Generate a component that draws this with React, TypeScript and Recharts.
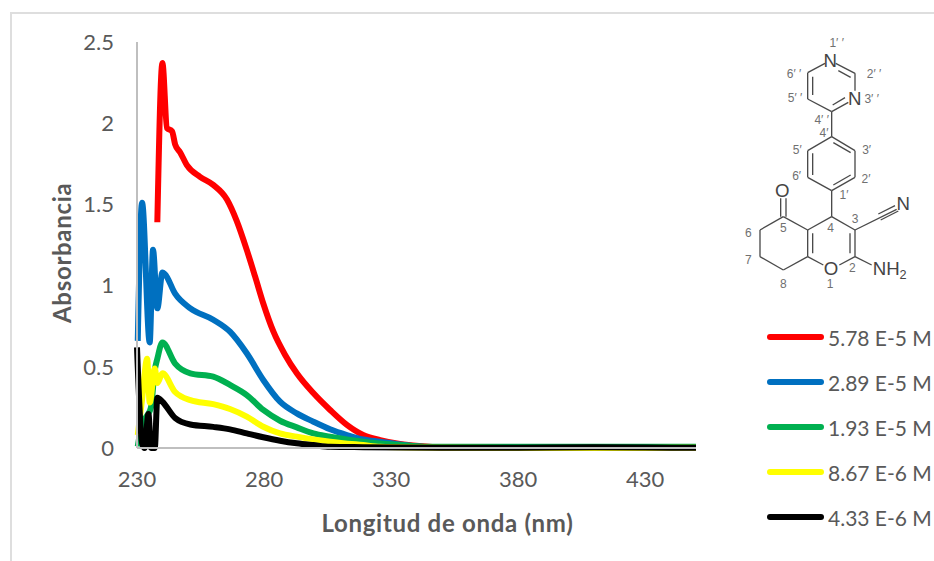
// UV-Vis absorbance spectra at five concentrations, with the compound structure beside them.
import { LineChart, Line, XAxis, YAxis } from 'recharts';

const FONT = 'Lato, "Open Sans", sans-serif';
const TEXT = '#595959';
const AXIS = '#bfbfbf';

const xTicks = [230, 280, 330, 380, 430];
const yTicks = [0, 0.5, 1, 1.5, 2, 2.5];

const redX = [238, 240, 241.8, 243.8, 245, 247, 249.7, 254.8, 260, 265.4, 269.2, 273.2, 276.5, 279.7, 283.7, 288.3, 292.9, 299.4, 306, 312.6, 319, 325.7, 333.5, 341, 350, 400, 450];
const redY = [1.39, 2.37, 1.97, 1.95, 1.87, 1.82, 1.74, 1.67, 1.62, 1.53, 1.4, 1.22, 1.055, 0.89, 0.716, 0.573, 0.46, 0.338, 0.234, 0.142, 0.08, 0.049, 0.025, 0.012, 0.004, 0.004, 0.004];

const blueX = [230.3, 232, 235, 236.3, 238, 240, 241, 245, 251, 260, 266.6, 273.2, 279.7, 286.3, 292.9, 299.4, 306, 312.6, 319, 325.7, 333.5, 345, 400, 450];
const blueY = [0.66, 1.51, 0.65, 1.22, 0.86, 1.08, 1.07, 0.95, 0.86, 0.79, 0.716, 0.583, 0.419, 0.285, 0.213, 0.162, 0.115, 0.08, 0.053, 0.039, 0.022, 0.006, 0.004, 0.004];

const greenX = [230.3, 232, 234, 235.5, 237, 238, 240, 245, 251, 260, 266.6, 273.2, 279.7, 286.3, 292.9, 299.4, 306, 319, 333.5, 345, 400, 450];
const greenY = [0.01, 0.15, 0.2, 0.25, 0.48, 0.55, 0.65, 0.52, 0.46, 0.44, 0.388, 0.326, 0.234, 0.168, 0.127, 0.09, 0.07, 0.039, 0.018, 0.008, 0.007, 0.007];

const yellowX = [230.3, 232, 234, 235, 237, 238, 240, 245, 251, 260, 266.6, 273.2, 279.7, 286.3, 292.9, 299.4, 306, 319, 325.7, 350, 380, 400, 430, 450];
const yellowY = [0.08, 0.3, 0.55, 0.28, 0.49, 0.4, 0.46, 0.345, 0.295, 0.27, 0.24, 0.193, 0.131, 0.09, 0.07, 0.053, 0.039, 0.018, 0.008, 0.002, 0, 0, 0, 0.002];

const blackX = [230, 232, 233, 234.5, 235.5, 237, 238, 240, 245, 251, 260, 266.6, 273.2, 279.7, 286.3, 292.9, 299.4, 306, 319, 350, 380, 410, 430, 450];
const blackY = [0.62, 0.03, 0, 0.21, 0, 0, 0.31, 0.285, 0.185, 0.145, 0.13, 0.115, 0.09, 0.066, 0.045, 0.029, 0.018, 0.008, 0.005, 0.001, 0.002, 0.005, 0.003, 0.001];

const zip = (xs: number[], ys: number[]) => xs.map((x, i) => ({ x, y: ys[i] }));

const series = [
  { name: '5.78 E-5 M', color: '#ff0000', data: zip(redX, redY) },
  { name: '2.89 E-5 M', color: '#0070c0', data: zip(blueX, blueY) },
  { name: '1.93 E-5 M', color: '#00b050', data: zip(greenX, greenY) },
  { name: '8.67 E-6 M', color: '#ffff00', data: zip(yellowX, yellowY) },
  { name: '4.33 E-6 M', color: '#000000', data: zip(blackX, blackY) },
];

// bonds of the structure, in the molecule svg's own drawing units
const bonds = [
  [263, 158, 315, 130], [347, 130, 405, 160], [355, 152, 392, 172], [405, 160, 405, 212],
  [385, 247, 335, 275], [375, 233, 338, 255], [335, 275, 263, 237], [263, 237, 263, 158], [278, 170, 278, 225],
  [335, 275, 335, 350],
  [335, 350, 405, 392], [340, 368, 392, 398], [405, 392, 405, 472], [405, 472, 335, 512], [392, 465, 340, 495],
  [335, 512, 263, 472], [263, 472, 263, 392], [278, 400, 278, 465], [263, 392, 335, 350],
  [335, 512, 335, 590], [335, 590, 405, 630], [405, 630, 405, 710], [390, 640, 390, 700],
  [405, 710, 358, 735], [310, 735, 263, 710], [263, 710, 263, 630], [278, 640, 278, 700], [263, 630, 335, 590],
  [263, 630, 190, 590], [182, 590, 182, 535], [198, 590, 198, 535], [190, 590, 120, 630],
  [120, 630, 120, 710], [120, 710, 190, 750], [190, 750, 263, 710], [405, 710, 455, 735],
  [405, 630, 530, 568], [475, 582, 525, 557], [482, 600, 535, 573],
];

const atoms = [
  { t: 'N', x: 331, y: 140 }, { t: 'N', x: 404, y: 256 }, { t: 'N', x: 550, y: 570 },
  { t: 'O', x: 187, y: 530 }, { t: 'O', x: 333, y: 764 },
];

const numbers = [
  { t: '1′ ′', x: 350, y: 80 }, { t: '6′ ′', x: 222, y: 175 }, { t: '2′ ′', x: 462, y: 175 },
  { t: '5′ ′', x: 225, y: 247 }, { t: '3′ ′', x: 455, y: 250 }, { t: '4′ ′', x: 305, y: 313 },
  { t: '4′', x: 312, y: 350 }, { t: '5′', x: 232, y: 402 }, { t: '3′', x: 440, y: 402 },
  { t: '6′', x: 230, y: 480 }, { t: '2′', x: 438, y: 488 }, { t: '1′', x: 372, y: 538 },
  { t: '3', x: 405, y: 608 }, { t: '6', x: 85, y: 650 }, { t: '5', x: 190, y: 635 },
  { t: '4', x: 332, y: 635 }, { t: '7', x: 85, y: 733 }, { t: '2', x: 397, y: 755 },
  { t: '8', x: 190, y: 805 }, { t: '1', x: 330, y: 805 },
];

function Molecule() {
  return (
    <svg width={214} height={280} viewBox="0 0 642 840" style={{ position: 'absolute', left: 720, top: 20 }}>
      {bonds.map((b, i) => (
        <line key={i} x1={b[0]} y1={b[1]} x2={b[2]} y2={b[3]} stroke="#4a4a4a" strokeWidth={4} />
      ))}
      <g fontFamily='"Liberation Sans", Arial, sans-serif' textAnchor="middle">
        {atoms.map((a, i) => (
          <text key={i} x={a.x} y={a.y} fontSize={56} fill="#444">{a.t}</text>
        ))}
        <text x={458} y={764} fontSize={56} fill="#444" textAnchor="start">NH<tspan dy={12} fontSize={38}>2</tspan></text>
        {numbers.map((n, i) => (
          <text key={i} x={n.x} y={n.y} fontSize={36} fill="#707070">{n.t}</text>
        ))}
      </g>
    </svg>
  );
}

function SeriesKey() {
  return (
    <div style={{ position: 'absolute', left: 767, top: 337 }}>
      {series.map((s, i) => (
        <div key={s.name} style={{ position: 'absolute', top: i * 45 - 15, height: 30, width: 170, display: 'flex', alignItems: 'center' }}>
          <div style={{ width: 57, height: 6, borderRadius: 3, background: s.color, flex: 'none' }} />
          <span style={{ marginLeft: 4, font: `21px ${FONT}`, color: TEXT, whiteSpace: 'nowrap' }}>{s.name}</span>
        </div>
      ))}
    </div>
  );
}

export default function App() {
  return (
    <div style={{ position: 'absolute', left: 0, top: 0, width: 934, height: 561, background: '#fff', overflow: 'hidden' }}>
      <div style={{ position: 'absolute', left: 10, top: 12, right: 0, bottom: 0, borderTop: '2px solid #dedede', borderLeft: '2px solid #dedede' }} />
      <LineChart width={934} height={561} data={series[0].data} margin={{ top: 42, right: 238, bottom: 73, left: 47 }}>
        <XAxis
          type="number"
          dataKey="x"
          domain={[230, 450]}
          ticks={xTicks}
          height={40}
          tickLine={false}
          tickMargin={17}
          axisLine={{ stroke: AXIS, strokeWidth: 2 }}
          tick={{ fontSize: 22, fill: TEXT, fontFamily: FONT }}
          label={{ value: 'Longitud de onda (nm)', position: 'insideBottom', offset: -44, dx: 31, fontSize: 24, letterSpacing: 0.7, fontWeight: 700, fill: TEXT, fontFamily: FONT }}
        />
        <YAxis
          type="number"
          domain={[0, 2.5]}
          ticks={yTicks}
          width={90}
          tickLine={false}
          tickMargin={17}
          axisLine={{ stroke: AXIS, strokeWidth: 2 }}
          tick={{ fontSize: 22, fill: TEXT, fontFamily: FONT }}
          label={{ value: 'Absorbancia', angle: -90, position: 'insideLeft', offset: 15, dy: 78, fontSize: 24, letterSpacing: 0.7, fontWeight: 700, fill: TEXT, fontFamily: FONT }}
        />
        {series.map((s) => (
          <Line
            key={s.name}
            data={s.data}
            dataKey="y"
            name={s.name}
            type="monotone"
            stroke={s.color}
            strokeWidth={6}
            dot={false}
            isAnimationActive={false}
          />
        ))}
      </LineChart>
      <Molecule />
      <SeriesKey />
    </div>
  );
}
